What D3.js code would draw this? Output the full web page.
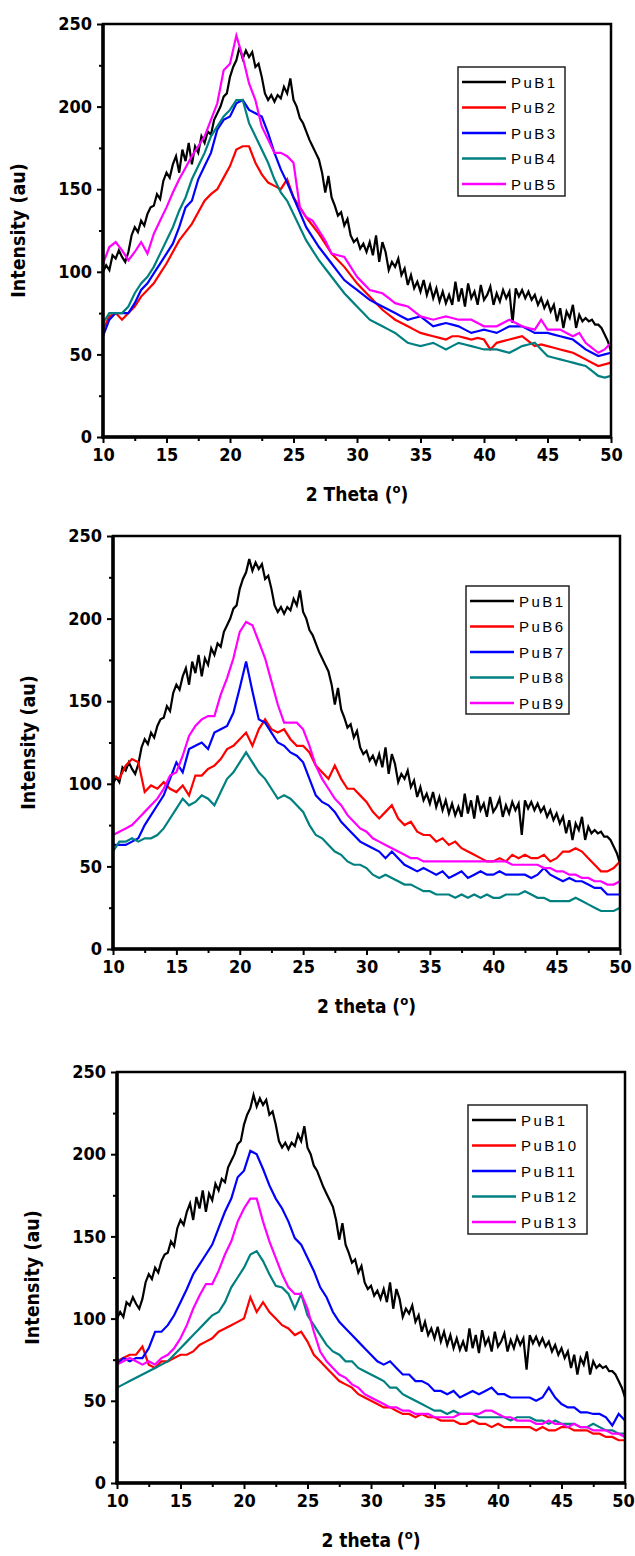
<!DOCTYPE html>
<html>
<head>
<meta charset="utf-8">
<script src="https://cdn.jsdelivr.net/npm/d3@7"></script>
<style>
  body { margin: 0; background: #fff; }
  svg { display: block; }
</style>
</head>
<body>
<svg id="chart" width="635" height="1556"></svg>
<script>
// 2-theta grids (degrees)
const twoTheta = d3.range(10, 50.001, 0.5);      // 81 points
const twoThetaFine = d3.range(10, 50.001, 0.25); // 161 points (PuB1)

// intensity (au)
const pub1 = [
  100, 104, 101, 110, 108, 113, 109, 106, 112, 122, 127, 124, 131, 128, 135, 139,
  140, 147, 144, 155, 160, 157, 165, 170, 160, 174, 167, 178, 165, 176, 172, 182,
  178, 185, 183, 192, 196, 200, 206, 208, 218, 224, 228, 236, 229, 234, 230, 233,
  224, 226, 218, 208, 204, 207, 203, 207, 205, 212, 208, 217, 204, 200, 193, 190,
  185, 180, 176, 172, 168, 160, 148, 158, 145, 140, 134, 136, 128, 132, 122, 118,
  120, 114, 117, 112, 118, 110, 122, 106, 118, 112, 101, 106, 103, 108, 98, 102,
  92, 98, 90, 94, 88, 95, 86, 92, 84, 90, 82, 88, 81, 86, 80, 94,
  82, 90, 79, 93, 84, 88, 80, 92, 83, 86, 91, 80, 87, 82, 89, 84,
  88, 69, 90, 85, 89, 84, 88, 83, 86, 80, 84, 78, 82, 76, 80, 70,
  78, 66, 76, 72, 80, 66, 74, 70, 72, 70, 71, 68, 68, 66, 62, 58,
  52
];
const pub2 = [
  65, 73, 75, 71, 75, 79, 85, 89, 93, 99,
  105, 112, 119, 124, 129, 136, 143, 147, 150, 157,
  164, 174, 176, 176, 166, 159, 154, 152, 150, 156,
  145, 139, 133, 128, 123, 117, 111, 107, 103, 98,
  93, 89, 85, 81, 77, 74, 71, 69, 67, 65,
  63, 62, 61, 60, 59, 61, 61, 60, 59, 60,
  59, 53, 57, 58, 59, 60, 61, 58, 55, 56,
  55, 54, 53, 52, 51, 49, 47, 45, 43, 44,
  45
];
const pub3 = [
  61, 71, 75, 75, 75, 81, 89, 93, 99, 105,
  111, 117, 127, 139, 143, 156, 164, 172, 186, 192,
  194, 202, 204, 198, 196, 194, 184, 172, 162, 154,
  145, 136, 127, 121, 115, 110, 105, 100, 95, 92,
  89, 86, 83, 81, 79, 77, 75, 73, 71, 72,
  73, 70, 67, 68, 69, 68, 67, 65, 63, 64,
  65, 64, 63, 65, 67, 67, 67, 65, 63, 63,
  63, 62, 61, 60, 59, 56, 53, 51, 49, 50,
  51
];
const pub4 = [
  69, 75, 75, 75, 79, 87, 93, 97, 103, 111,
  119, 127, 137, 145, 156, 164, 172, 182, 188, 194,
  198, 204, 204, 190, 182, 174, 166, 156, 148, 143,
  135, 127, 119, 113, 107, 102, 97, 92, 87, 83,
  79, 75, 71, 69, 67, 65, 63, 60, 57, 56,
  55, 56, 57, 55, 53, 55, 57, 56, 55, 54,
  53, 53, 53, 52, 51, 53, 55, 56, 57, 53,
  49, 48, 47, 46, 45, 44, 43, 40, 37, 36,
  37
];
const pub5 = [
  105, 115, 118, 113, 107, 112, 118, 111, 123, 131,
  139, 148, 156, 163, 170, 176, 182, 192, 202, 222,
  226, 243, 230, 214, 204, 188, 180, 172, 172, 170,
  166, 139, 133, 131, 125, 119, 111, 110, 109, 103,
  97, 93, 89, 88, 87, 84, 81, 80, 79, 76,
  73, 72, 71, 72, 73, 72, 71, 71, 71, 69,
  67, 67, 67, 69, 71, 69, 67, 66, 65, 71,
  65, 65, 65, 63, 61, 63, 57, 54, 51, 53,
  57
];
const pub6 = [
  105, 103, 111, 115, 113, 95, 99, 97, 101, 97,
  95, 99, 93, 105, 105, 109, 111, 115, 121, 123,
  127, 131, 123, 133, 139, 133, 131, 133, 127, 123,
  123, 119, 111, 107, 103, 111, 103, 97, 97, 93,
  89, 83, 79, 83, 87, 79, 75, 77, 71, 69,
  69, 65, 67, 63, 65, 61, 59, 57, 55, 53,
  53, 55, 53, 57, 55, 57, 55, 55, 57, 53,
  55, 59, 59, 61, 59, 55, 51, 47, 47, 49,
  53
];
const pub7 = [
  63, 63, 63, 65, 67, 75, 81, 87, 93, 103,
  113, 107, 121, 123, 125, 121, 131, 133, 135, 143,
  158, 174, 156, 139, 137, 131, 125, 123, 119, 117,
  113, 103, 93, 89, 87, 83, 77, 73, 69, 65,
  63, 61, 59, 55, 59, 55, 51, 49, 47, 49,
  47, 45, 47, 43, 45, 47, 43, 45, 47, 45,
  45, 47, 45, 45, 45, 45, 43, 45, 49, 45,
  43, 41, 43, 41, 41, 39, 37, 37, 33, 33,
  33
];
const pub8 = [
  59, 65, 65, 67, 65, 67, 67, 69, 73, 79,
  85, 91, 87, 89, 93, 91, 87, 95, 103, 107,
  113, 119, 113, 107, 103, 97, 91, 93, 91, 87,
  83, 75, 69, 67, 63, 59, 57, 53, 51, 51,
  49, 45, 43, 45, 43, 41, 39, 39, 37, 35,
  35, 33, 33, 33, 31, 33, 31, 33, 31, 33,
  31, 31, 33, 33, 33, 35, 33, 31, 31, 29,
  29, 29, 29, 31, 29, 27, 25, 23, 23, 23,
  25
];
const pub9 = [
  69, 71, 73, 75, 79, 83, 87, 91, 97, 105,
  107, 117, 129, 135, 139, 141, 141, 154, 164, 176,
  192, 198, 196, 186, 176, 162, 148, 137, 137, 137,
  133, 123, 111, 103, 97, 91, 87, 81, 77, 73,
  71, 67, 65, 63, 61, 59, 57, 55, 55, 53,
  53, 53, 53, 53, 53, 53, 53, 53, 53, 53,
  53, 53, 53, 51, 51, 51, 51, 51, 49, 49,
  47, 47, 45, 45, 43, 43, 41, 41, 39, 39,
  41
];
const pub10 = [
  74, 76, 78, 78, 83, 72, 70, 74, 74, 76,
  78, 78, 80, 84, 86, 88, 92, 94, 96, 98,
  100, 113, 104, 110, 104, 100, 96, 94, 90, 92,
  86, 78, 74, 70, 66, 62, 60, 58, 54, 52,
  50, 48, 46, 46, 44, 42, 42, 40, 42, 40,
  40, 38, 38, 38, 36, 36, 38, 36, 36, 34,
  36, 34, 34, 34, 34, 34, 32, 34, 32, 32,
  34, 34, 32, 32, 32, 30, 30, 28, 28, 26,
  26
];
const pub11 = [
  72, 76, 74, 76, 76, 82, 92, 92, 96, 102,
  110, 118, 127, 133, 139, 145, 155, 165, 173, 186,
  190, 202, 200, 191, 181, 173, 167, 159, 149, 145,
  137, 129, 119, 113, 104, 98, 94, 90, 86, 82,
  78, 74, 72, 74, 70, 66, 66, 62, 62, 60,
  56, 56, 54, 56, 52, 54, 56, 54, 56, 58,
  54, 54, 52, 52, 52, 52, 50, 52, 58, 52,
  48, 46, 46, 43, 43, 42, 42, 40, 35, 42,
  38
];
const pub12 = [
  58, 60, 62, 64, 66, 68, 70, 72, 74, 78,
  82, 86, 90, 94, 98, 102, 104, 110, 119, 125,
  131, 139, 141, 135, 127, 120, 119, 115, 106, 115,
  102, 96, 90, 84, 80, 78, 74, 74, 70, 68,
  66, 64, 62, 58, 58, 54, 52, 50, 48, 46,
  44, 44, 42, 44, 42, 42, 42, 40, 40, 40,
  40, 40, 38, 40, 40, 40, 38, 38, 36, 38,
  36, 36, 36, 34, 34, 36, 34, 32, 32, 30,
  30
];
const pub13 = [
  72, 74, 76, 74, 72, 74, 72, 76, 78, 82,
  88, 96, 106, 114, 121, 121, 129, 139, 147, 159,
  167, 173, 173, 159, 147, 137, 127, 119, 115, 115,
  106, 92, 80, 74, 70, 66, 64, 60, 58, 54,
  52, 50, 48, 46, 46, 44, 44, 42, 42, 42,
  40, 40, 40, 40, 42, 42, 42, 42, 44, 44,
  42, 40, 40, 38, 38, 38, 36, 36, 38, 36,
  36, 34, 36, 34, 34, 32, 32, 32, 30, 30,
  28
];

const xTicks = [10, 15, 20, 25, 30, 35, 40, 45, 50];
const xMinor = [12.5, 17.5, 22.5, 27.5, 32.5, 37.5, 42.5, 47.5];
const yTicks = [0, 50, 100, 150, 200, 250];
const yMinor = [25, 75, 125, 175, 225];

const colors = ["#000000", "#ff0000", "#0000ff", "#008080", "#ff00ff"];

const panels = [
  { names: ["PuB1", "PuB2", "PuB3", "PuB4", "PuB5"], series: [pub1, pub2, pub3, pub4, pub5],
    xWord: "Theta", left: 103, right: 611, top: 24, bottom: 437,
    legend: { x: 458, y: 67, w: 107, h: 129 } },
  { names: ["PuB1", "PuB6", "PuB7", "PuB8", "PuB9"], series: [pub1, pub6, pub7, pub8, pub9],
    xWord: "theta", left: 113, right: 620, top: 536, bottom: 949,
    legend: { x: 466, y: 586, w: 103, h: 128 } },
  { names: ["PuB1", "PuB10", "PuB11", "PuB12", "PuB13"], series: [pub1, pub10, pub11, pub12, pub13],
    xWord: "theta", left: 117, right: 625, top: 1072, bottom: 1483,
    legend: { x: 468, y: 1105, w: 119, h: 129 } }
];

const svg = d3.select("#chart");
const W = 635;
const tickFont = "'DejaVu Sans Condensed', 'DejaVu Sans', sans-serif";

panels.forEach(p => {
  const x = d3.scaleLinear().domain([10, 50]).range([p.left, p.right]);
  const y = d3.scaleLinear().domain([0, 250]).range([p.bottom, p.top]);
  const g = svg.append("g");

  // Lines
  const line = d3.line()
    .x(d => x(d[0]))
    .y(d => y(d[1]));

  p.series.forEach((vals, i) => {
    const grid = vals.length === twoThetaFine.length ? twoThetaFine : twoTheta;
    g.append("path")
      .datum(d3.zip(grid, vals))
      .attr("fill", "none")
      .attr("stroke", colors[i])
      .attr("stroke-width", i === 0 ? 2.2 : 2.2)
      .attr("stroke-linejoin", "miter")
      .attr("d", line);
  });

  // Frame
  g.append("rect")
    .attr("x", p.left).attr("y", p.top)
    .attr("width", p.right - p.left).attr("height", p.bottom - p.top)
    .attr("fill", "none").attr("stroke", "#000").attr("stroke-width", 2.5);

  // Axes
  g.append("g")
    .attr("class", "x-major")
    .attr("transform", `translate(0,${p.bottom})`)
    .call(d3.axisBottom(x).tickValues(xTicks).tickSize(6).tickPadding(5).tickFormat(d3.format("d")));
  g.append("g")
    .attr("transform", `translate(0,${p.bottom})`)
    .call(d3.axisBottom(x).tickValues(xMinor).tickSize(4).tickFormat(""));
  g.append("g")
    .attr("transform", `translate(${p.left},0)`)
    .call(d3.axisLeft(y).tickValues(yTicks).tickSize(6).tickPadding(5).tickFormat(d3.format("d")));
  g.append("g")
    .attr("transform", `translate(${p.left},0)`)
    .call(d3.axisLeft(y).tickValues(yMinor).tickSize(4).tickFormat(""));

  g.selectAll(".domain").remove();
  g.selectAll(".tick line").attr("stroke", "#000").attr("stroke-width", 2);
  g.selectAll(".tick text")
    .attr("fill", "#000")
    .style("font-family", tickFont)
    .style("font-weight", "bold")
    .style("font-size", "18px");

  // keep the last x label inside the page
  g.selectAll(".x-major .tick text").each(function(d) {
    const over = x(d) + 11 - (W - 1);
    if (over > 0) d3.select(this).attr("dx", -over);
  });

  // Thicker left and bottom axis lines
  g.append("line")
    .attr("x1", p.left).attr("x2", p.left)
    .attr("y1", p.top).attr("y2", p.bottom + 1.5)
    .attr("stroke", "#000").attr("stroke-width", 3.5);
  g.append("line")
    .attr("x1", p.left - 1.5).attr("x2", p.right)
    .attr("y1", p.bottom).attr("y2", p.bottom)
    .attr("stroke", "#000").attr("stroke-width", 3.5);

  // Axis titles
  const xt = g.append("text")
    .attr("x", (p.left + p.right) / 2)
    .attr("y", p.bottom + 64)
    .attr("text-anchor", "middle")
    .style("font-family", tickFont)
    .style("font-weight", "bold")
    .style("font-size", "19px")
    .text(`2 ${p.xWord} (`);
  xt.append("tspan").attr("dy", -8).style("font-size", "13px").text("o");
  xt.append("tspan").attr("dy", 8).text(")");

  g.append("text")
    .attr("transform", `translate(${p.left - 78},${(p.top + p.bottom) / 2}) rotate(-90)`)
    .attr("text-anchor", "middle")
    .style("font-family", tickFont)
    .style("font-weight", "bold")
    .style("font-size", "19.5px")
    .text("Intensity (au)");

  // Legend
  const L = p.legend;
  g.append("rect")
    .attr("x", L.x).attr("y", L.y).attr("width", L.w).attr("height", L.h)
    .attr("fill", "#fff").attr("stroke", "#222").attr("stroke-width", 1.5);
  p.names.forEach((name, i) => {
    const ly = L.y + 15 + i * 25.5;
    g.append("line")
      .attr("x1", L.x + 4).attr("x2", L.x + 48)
      .attr("y1", ly).attr("y2", ly)
      .attr("stroke", colors[i]).attr("stroke-width", 2.5);
    g.append("text")
      .attr("x", L.x + 53).attr("y", ly + 5.5)
      .style("font-family", "'Liberation Sans', Arial, sans-serif")
      .style("font-size", "15px")
      .style("letter-spacing", "2.5px")
      .text(name);
  });
});
</script>
</body>
</html>
